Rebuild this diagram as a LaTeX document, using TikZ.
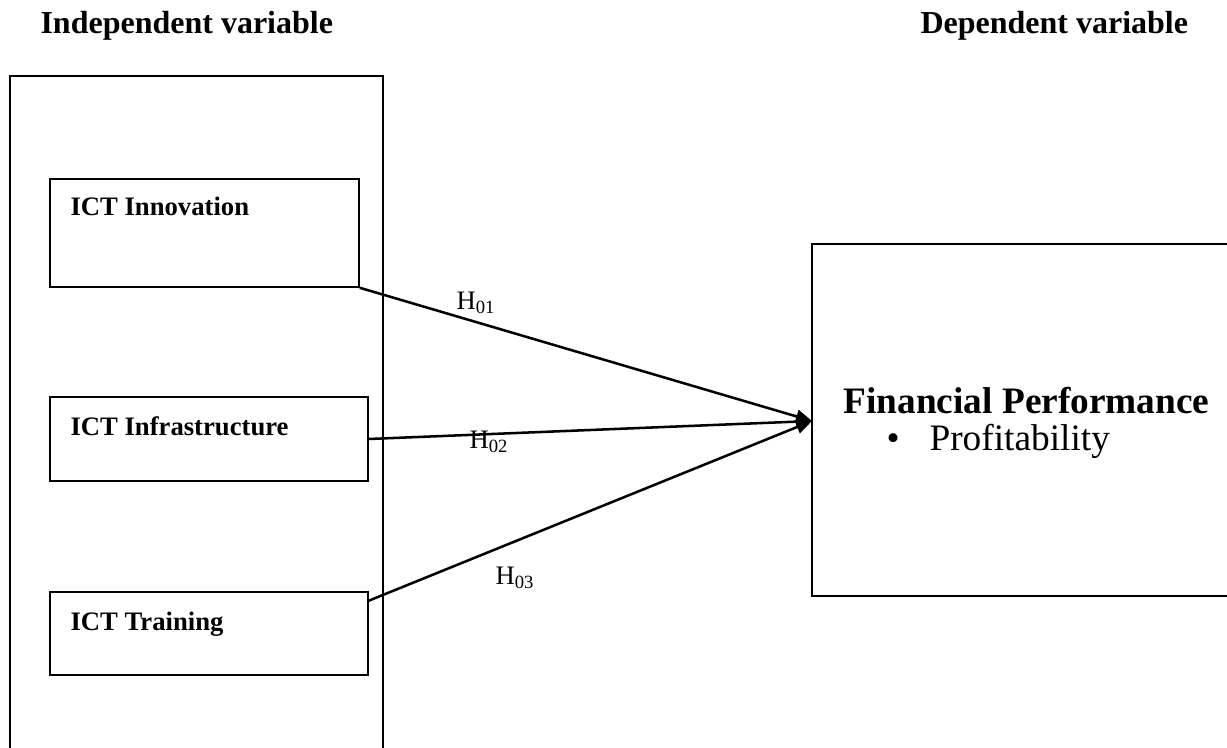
\documentclass[tikz,border=0pt]{standalone}
\usepackage{fontspec}
\setmainfont{Liberation Serif}
\usetikzlibrary{arrows.meta,fit}
\begin{document}
\begin{tikzpicture}[x=0.375pt,y=-0.375pt,
 box/.style={draw, line width=0.6pt, inner sep=0pt},
 lbl/.style={anchor=base west, inner sep=0pt, font=\fontsize{10}{12}\selectfont\bfseries},
 ttl/.style={anchor=base west, inner sep=0pt, font=\fontsize{12}{14}\selectfont\bfseries},
 hyp/.style={anchor=base west, inner sep=0pt, font=\fontsize{10}{12}\selectfont},
 big/.style={anchor=base west, inner sep=0pt, font=\fontsize{14}{16}\selectfont},
 link/.style={line width=0.95pt, -{Triangle[length=6pt,width=5pt]}}]
\useasboundingbox (0,0) rectangle (1227,748);
\clip (0,0) rectangle (1227,748);
% titles
\node[ttl] (tind) at (40,34) {Independent variable};
\node[ttl] (tdep) at (920,34) {Dependent variable};
% outer box
\node[box, fit={(10,76) (383,820)}] (outer) {};
% inner boxes
\node[box, fit={(50,179) (359,287)}] (inno) {};
\node[lbl] (tinno) at (70,216) {ICT Innovation};
\node[box, fit={(50,397) (368,481)}] (infra) {};
\node[lbl] (tinfra) at (70,436) {ICT Infrastructure};
\node[box, fit={(50,592) (368,675)}] (train) {};
\node[lbl] (ttrain) at (70,631) {ICT Training};
% dependent box
\node[box, fit={(812,244) (1300,596)}] (fp) {};
\node[big, font=\fontsize{14}{16}\selectfont\bfseries] (tfp) at (843,414) {Financial Performance};
\node[big] (bul) at (886,451) {\textbullet};
\node[big] (tprof) at (929,451) {Profitability};
% connectors
\coordinate (tip) at (812,421);
\coordinate (s3) at (368,601);
\draw[link] (inno.south east) -- (tip);
\draw[link] (infra.east) -- (tip);
\draw[link] (s3) -- (tip);
% hypothesis labels
\node[hyp] (h1) at (456,310) {H\textsubscript{01}};
\node[hyp] (h2) at (469,449) {H\textsubscript{02}};
\node[hyp] (h3) at (495,585) {H\textsubscript{03}};
\end{tikzpicture}
\end{document}
